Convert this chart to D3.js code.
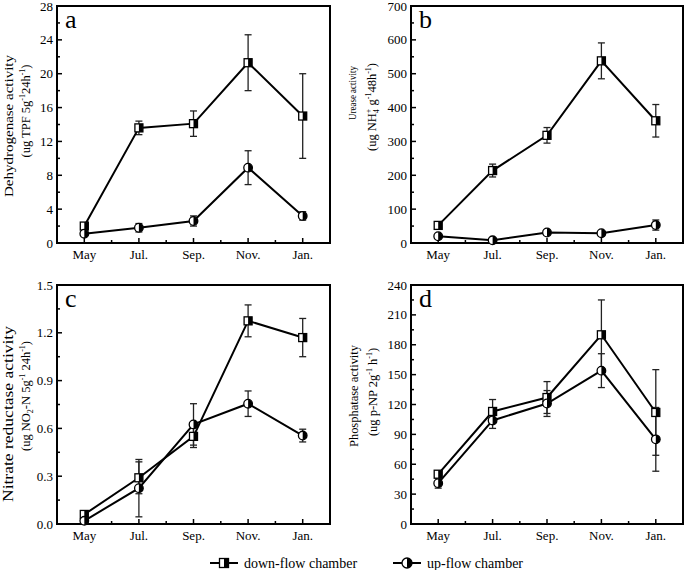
<!DOCTYPE html>
<html><head><meta charset="utf-8">
<script src="https://cdn.jsdelivr.net/npm/d3@7"></script>
<style>body{margin:0;background:#fff}svg{display:block}</style>
</head><body>
<svg id="c" width="685" height="570" font-family="'Liberation Serif', 'Times New Roman', 'DejaVu Serif', serif"></svg>
<script>
const months = ["May","Jul.","Sep.","Nov.","Jan."];
// a: Dehydrogenase
const aDown = [2.0, 13.6, 14.1, 21.3, 15.0];
const aDownErr = [0.3, 0.8, 1.5, 3.3, 5.0];
const aUp = [1.1, 1.8, 2.6, 8.9, 3.2];
const aUpErr = [0.2, 0.5, 0.6, 2.0, 0.5];
// b: Urease
const bDown = [52, 214, 318, 538, 361];
const bDownErr = [5, 19, 23, 53, 48];
const bUp = [20, 8, 31, 29, 53];
const bUpErr = [4, 3, 4, 4, 15];
// c: Nitrate reductase
const cDown = [0.06, 0.29, 0.55, 1.275, 1.17];
const cDownErr = [0.01, 0.10, 0.07, 0.10, 0.12];
const cUp = [0.02, 0.225, 0.625, 0.755, 0.555];
const cUpErr = [0.01, 0.18, 0.13, 0.08, 0.04];
// d: Phosphatase
const dDown = [50, 113, 127, 190, 112];
const dDownErr = [3, 12, 16, 35, 43];
const dUp = [41, 104, 121, 154, 85];
const dUpErr = [5, 8, 13, 17, 32];

const panels = [
  {id:"a", down:aDown, downErr:aDownErr, up:aUp, upErr:aUpErr, max:28, major:4, minor:2, fmt:d=>d,
   label:["Dehydrogenase activity", "(ug TPF 5g<sup>-1</sup>24h<sup>-1</sup>)"], x0:57, x1:330, y0:6, y1:243,
   l1:{x:12.5, y:126, size:13.5, len:142}, l2:{x:30, y:111, size:12.5}},
  {id:"b", down:bDown, downErr:bDownErr, up:bUp, upErr:bUpErr, max:700, major:100, minor:50, fmt:d=>d,
   label:["Urease activity", "(ug NH<sub4>4</sub4><supx>+</supx> g<sup>-1</sup>48h<sup>-1</sup>)"], x0:411, x1:683, y0:6, y1:243,
   l1:{x:356, y:93, size:11, len:54}, l2:{x:376, y:107, size:12.5}},
  {id:"c", down:cDown, downErr:cDownErr, up:cUp, upErr:cUpErr, max:1.5, major:0.3, minor:0.15, fmt:d=>d.toFixed(1),
   label:["Nitrate reductase activity", "(ug NO<sub4>2</sub4>-N 5g<sup>-1</sup> 24h<sup>-1</sup>)"], x0:57, x1:330, y0:285, y1:524,
   l1:{x:13, y:414, size:14, len:176}, l2:{x:30, y:396, size:12.5}},
  {id:"d", down:dDown, downErr:dDownErr, up:dUp, upErr:dUpErr, max:240, major:30, minor:15, fmt:d=>d,
   label:["Phosphatase activity", "(ug p-NP 2g<sup>-1</sup> h<sup>-1</sup>)"], x0:411, x1:683, y0:285, y1:524,
   l1:{x:358, y:396, size:11.5, len:102}, l2:{x:377, y:392, size:12.5}}
];

const svg = d3.select("#c");
const FONT = "'Liberation Serif', 'Times New Roman', 'DejaVu Serif', serif";

function squareMarker(g, x, y, s) {
  g.append("rect").attr("x", x - s/2).attr("y", y - s/2).attr("width", s).attr("height", s)
    .attr("fill", "#fff").attr("stroke", "#000").attr("stroke-width", 1.3);
  g.append("rect").attr("x", x).attr("y", y - s/2).attr("width", s/2).attr("height", s).attr("fill", "#000");
}
function circleMarker(g, x, y, r) {
  g.append("circle").attr("cx", x).attr("cy", y).attr("r", r)
    .attr("fill", "#fff").attr("stroke", "#000").attr("stroke-width", 1.3);
  g.append("path").attr("d", `M${x},${y - r}A${r},${r} 0 0 1 ${x},${y + r}Z`).attr("fill", "#000");
}

function addRich(textSel, str) {
  const re = /<(sup|sub4|supx)>(.*?)<\/\1>/g;
  let last = 0, m;
  const parts = [];
  while ((m = re.exec(str)) !== null) {
    if (m.index > last) parts.push({t: str.slice(last, m.index), k: "n"});
    parts.push({t: m[2], k: m[1]});
    last = re.lastIndex;
  }
  if (last < str.length) parts.push({t: str.slice(last), k: "n"});
  let cur = 0;
  parts.forEach(p => {
    const ts = textSel.append("tspan").text(p.t);
    let target = 0;
    if (p.k === "sup") target = -5;
    if (p.k === "sub4") target = 3;
    if (p.k === "supx") target = -5;
    if (p.k !== "n") ts.attr("font-size", 8);
    if (target !== cur) ts.attr("dy", target - cur);
    if (p.k === "supx") ts.attr("dx", -4);
    cur = target;
  });
}

panels.forEach(p => {
  const g = svg.append("g").attr("font-family", FONT);
  const x = d3.scalePoint().domain(months).range([p.x0, p.x1]).padding(0.5);
  const y = d3.scaleLinear().domain([0, p.max]).range([p.y1, p.y0]);

  const majors = d3.range(0, p.max + p.major/2, p.major);
  const minors = d3.range(p.minor, p.max, p.major);
  g.selectAll(".ymaj").data(majors).join("line")
    .attr("x1", p.x0).attr("x2", p.x0 + 5).attr("y1", d => y(d)).attr("y2", d => y(d))
    .attr("stroke", "#000").attr("stroke-width", 1.5);
  g.selectAll(".ymin").data(minors).join("line")
    .attr("x1", p.x0).attr("x2", p.x0 + 3).attr("y1", d => y(d)).attr("y2", d => y(d))
    .attr("stroke", "#000").attr("stroke-width", 1.5);
  g.selectAll(".ylab").data(majors).join("text")
    .attr("x", p.x0 - 4).attr("y", d => y(d) + 4.5).attr("text-anchor", "end")
    .attr("font-size", 13).attr("font-family", FONT).text(d => p.fmt(+d.toFixed(2)));

  g.selectAll(".xmaj").data(months).join("line")
    .attr("x1", d => x(d)).attr("x2", d => x(d)).attr("y1", p.y1).attr("y2", p.y1 - 5)
    .attr("stroke", "#000").attr("stroke-width", 1.5);
  const step = x.step();
  g.selectAll(".xmin").data(months.slice(0, -1)).join("line")
    .attr("x1", d => x(d) + step/2).attr("x2", d => x(d) + step/2).attr("y1", p.y1).attr("y2", p.y1 - 3)
    .attr("stroke", "#000").attr("stroke-width", 1.5);
  g.selectAll(".xlab").data(months).join("text")
    .attr("x", d => x(d)).attr("y", p.y1 + 16).attr("text-anchor", "middle")
    .attr("font-size", 13).attr("font-family", FONT).text(d => d);

  g.append("rect").attr("x", p.x0).attr("y", p.y0).attr("width", p.x1 - p.x0).attr("height", p.y1 - p.y0)
    .attr("fill", "none").attr("stroke", "#000").attr("stroke-width", 2);

  g.append("text").attr("x", p.x0 + 8).attr("y", p.y0 + 22).attr("font-size", 26)
    .attr("font-family", FONT).text(p.id);

  g.append("text").attr("transform", `translate(${p.l1.x},${p.l1.y}) rotate(-90)`)
    .attr("text-anchor", "middle").attr("font-size", p.l1.size).attr("font-family", FONT)
    .attr("textLength", p.l1.len).attr("lengthAdjust", "spacingAndGlyphs").text(p.label[0]);
  const t2 = g.append("text").attr("transform", `translate(${p.l2.x},${p.l2.y}) rotate(-90)`)
    .attr("text-anchor", "middle").attr("font-size", p.l2.size).attr("font-family", FONT);
  addRich(t2, p.label[1]);

  const series = [
    {v: p.down, e: p.downErr, shape: "sq"},
    {v: p.up, e: p.upErr, shape: "ci"}
  ];
  series.forEach(s => {
    const eg = g.append("g").attr("stroke", "#222").attr("stroke-width", 1.3);
    months.forEach((m, i) => {
      const cx = x(m), top = y(s.v[i] + s.e[i]), bot = y(s.v[i] - s.e[i]);
      eg.append("line").attr("x1", cx).attr("x2", cx).attr("y1", top).attr("y2", bot);
      eg.append("line").attr("x1", cx - 3.5).attr("x2", cx + 3.5).attr("y1", top).attr("y2", top);
      eg.append("line").attr("x1", cx - 3.5).attr("x2", cx + 3.5).attr("y1", bot).attr("y2", bot);
    });
  });
  const line = d3.line().x((d, i) => x(months[i])).y(d => y(d));
  series.forEach(s => {
    g.append("path").datum(s.v).attr("d", line).attr("fill", "none")
      .attr("stroke", "#000").attr("stroke-width", 2);
  });
  series.forEach(s => {
    months.forEach((m, i) => {
      if (s.shape === "sq") squareMarker(g, x(m), y(s.v[i]), 8);
      else circleMarker(g, x(m), y(s.v[i]), 4.3);
    });
  });
});

const lg = svg.append("g").attr("font-family", FONT);
const legendItems = [
  {label: "down-flow chamber", shape: "sq", x: 210},
  {label: "up-flow chamber", shape: "ci", x: 393}
];
legendItems.forEach(it => {
  const ly = 563;
  lg.append("line").attr("x1", it.x).attr("x2", it.x + 28).attr("y1", ly).attr("y2", ly)
    .attr("stroke", "#000").attr("stroke-width", 2);
  if (it.shape === "sq") squareMarker(lg, it.x + 14, ly, 9);
  else circleMarker(lg, it.x + 14, ly, 5);
  lg.append("text").attr("x", it.x + 34).attr("y", ly + 4.5).attr("font-size", 14)
    .attr("font-family", FONT).text(it.label);
});
</script>
</body></html>
